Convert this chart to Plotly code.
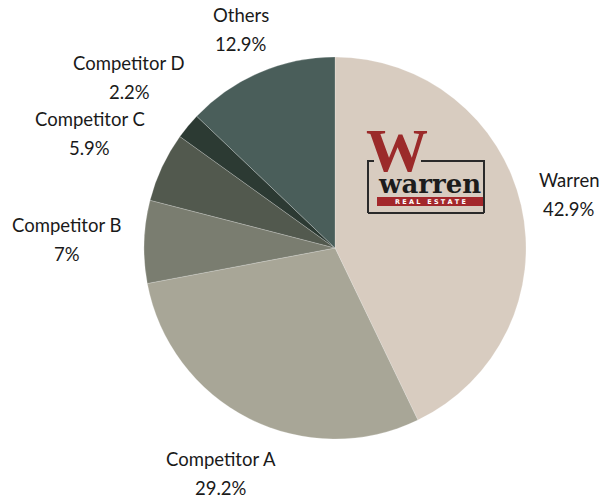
import math
import plotly.graph_objects as go

# ---- data ----
labels = ["Warren", "Competitor A", "Competitor B", "Competitor C", "Competitor D", "Others"]
values = [42.9, 29.2, 7.0, 5.9, 2.2, 12.9]
pct_text = ["42.9%", "29.2%", "7%", "5.9%", "2.2%", "12.9%"]
colors = ["#D8CCC0", "#A8A697", "#7A7D70", "#52594E", "#2C3A33", "#4A5E5A"]

# ---- layout geometry ----
W, H = 605, 500
CX, CY, R = 335, 248, 191
LABEL_FONT = dict(family="Lato, 'Noto Sans', sans-serif", size=18.5, color="#1a1a1a")


def px(x):
    return x / W


def py(y):
    return 1 - y / H


fig = go.Figure(
    go.Pie(
        labels=labels,
        values=values,
        sort=False,
        direction="clockwise",
        rotation=0,
        marker=dict(colors=colors, line=dict(color="rgba(255,255,255,0.35)", width=0.6)),
        textinfo="none",
        hoverinfo="label+percent",
        showlegend=False,
        domain=dict(x=[(CX - R) / W, (CX + R) / W], y=[(H - CY - R) / H, (H - CY + R) / H]),
    )
)

annotations = []
total = sum(values)
cum = 0.0
for lab, v, pt in zip(labels, values, pct_text):
    mid = (cum + v / 2) / total
    cum += v
    ang = math.radians(90 - 360 * mid)
    c, s = math.cos(ang), math.sin(ang)
    hw = max(len(lab), len(pt)) * 5.2
    hh = 22
    r = R + 14 + hw * abs(c) + hh * abs(s)
    x = CX + r * c
    y = CY - r * s
    annotations.append(dict(x=px(x), y=py(y - 14.5), xref="paper", yref="paper", text=lab,
                            showarrow=False, xanchor="center", yanchor="middle", font=LABEL_FONT))
    annotations.append(dict(x=px(x), y=py(y + 14.5), xref="paper", yref="paper", text=pt,
                            showarrow=False, xanchor="center", yanchor="middle", font=LABEL_FONT))

# ---- Warren logo (decoration) ----
shapes = []
frame = dict(color="#2a2a2a", width=2)
for (x0, y0, x1, y1) in [(367, 161, 374, 161), (421, 161, 485, 161), (368, 161, 368, 213),
                         (484, 161, 484, 213), (368, 213, 484, 213)]:
    shapes.append(dict(type="line", xref="paper", yref="paper", x0=px(x0), y0=py(y0),
                       x1=px(x1), y1=py(y1), line=frame))
shapes.append(dict(type="rect", xref="paper", yref="paper", x0=px(377), y0=py(206),
                   x1=px(483), y1=py(197), fillcolor="#A3272B", line=dict(width=0)))

annotations.append(dict(x=px(397), y=py(150), xref="paper", yref="paper", text="<b>W</b>",
                        showarrow=False, xanchor="center", yanchor="middle", height=44,
                        valign="middle",
                        font=dict(family="Liberation Serif, serif", size=62, color="#9B2A2A")))
annotations.append(dict(x=px(429), y=py(184), xref="paper", yref="paper", text="<b>warren</b>",
                        showarrow=False, xanchor="center", yanchor="middle",
                        font=dict(family="DejaVu Serif, serif", size=26, color="#1c1c1c")))
annotations.append(dict(x=px(430), y=py(201.5), xref="paper", yref="paper",
                        text="<b>R E A L   E S T A T E</b>",
                        showarrow=False, xanchor="center", yanchor="middle",
                        font=dict(family="DejaVu Sans, sans-serif", size=6.5, color="#ffffff")))

fig.update_layout(
    width=W,
    height=H,
    margin=dict(l=0, r=0, t=0, b=0),
    paper_bgcolor="white",
    plot_bgcolor="white",
    annotations=annotations,
    shapes=shapes,
)

fig.write_html("out.html", config={"displayModeBar": False},
               post_script="document.body.style.margin='0';")
